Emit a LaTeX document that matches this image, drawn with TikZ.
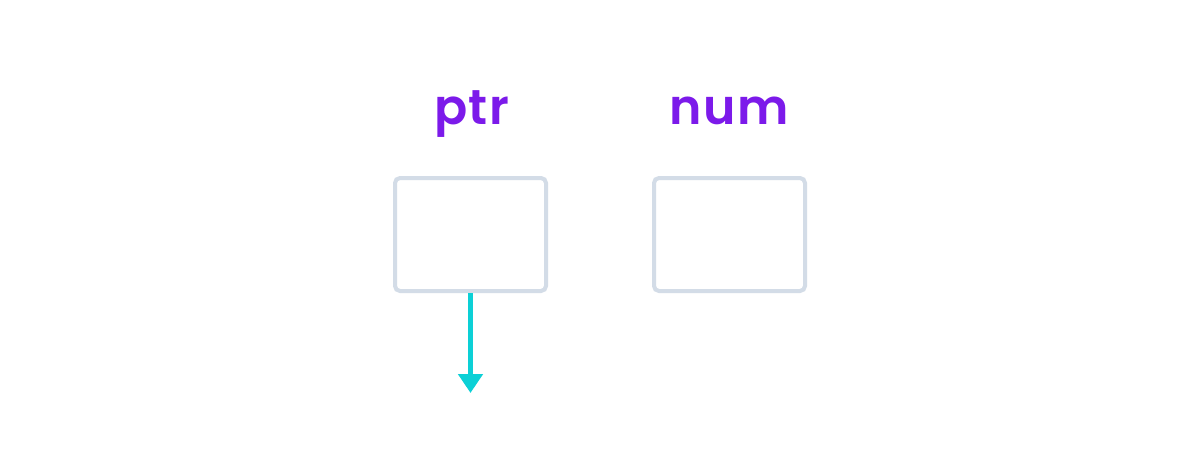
\documentclass[tikz,border=0pt]{standalone}
\usepackage{fontspec}
\newfontfamily\labelfont{Poppins}[UprightFont=* SemiBold, LetterSpace=3]
\usetikzlibrary{arrows.meta}

\definecolor{varpurple}{RGB}{124,26,234}
\definecolor{boxgray}{RGB}{211,220,231}
\definecolor{ptrcyan}{RGB}{12,208,214}

\begin{document}
\begin{tikzpicture}[x=0.5pt, y=-0.5pt,
	membox/.style={draw=boxgray, line width=2pt, rounded corners=2.5pt,
		minimum width=75.5pt, minimum height=56.5pt, inner sep=0pt},
	varlabel/.style={font=\labelfont\fontsize{24.5}{28}\selectfont, text=varpurple, anchor=base},
	pointsto/.style={draw=ptrcyan, line width=2.5pt, -{Triangle[width=12pt, length=9.5pt]}}]

	\fill[white] (0,0) rectangle (1200,455);

	\node[membox] (ptrbox) at (470.5,234.5) {};
	\node[membox] (numbox) at (729.5,234.5) {};

	\node[varlabel] (ptrlabel) at (471.5,124) {ptr};
	\node[varlabel] (numlabel) at (729,124) {num};

	\coordinate (ptrend) at (470.5,393);
	\draw[pointsto] (ptrbox.south) -- (ptrend);
\end{tikzpicture}
\end{document}
